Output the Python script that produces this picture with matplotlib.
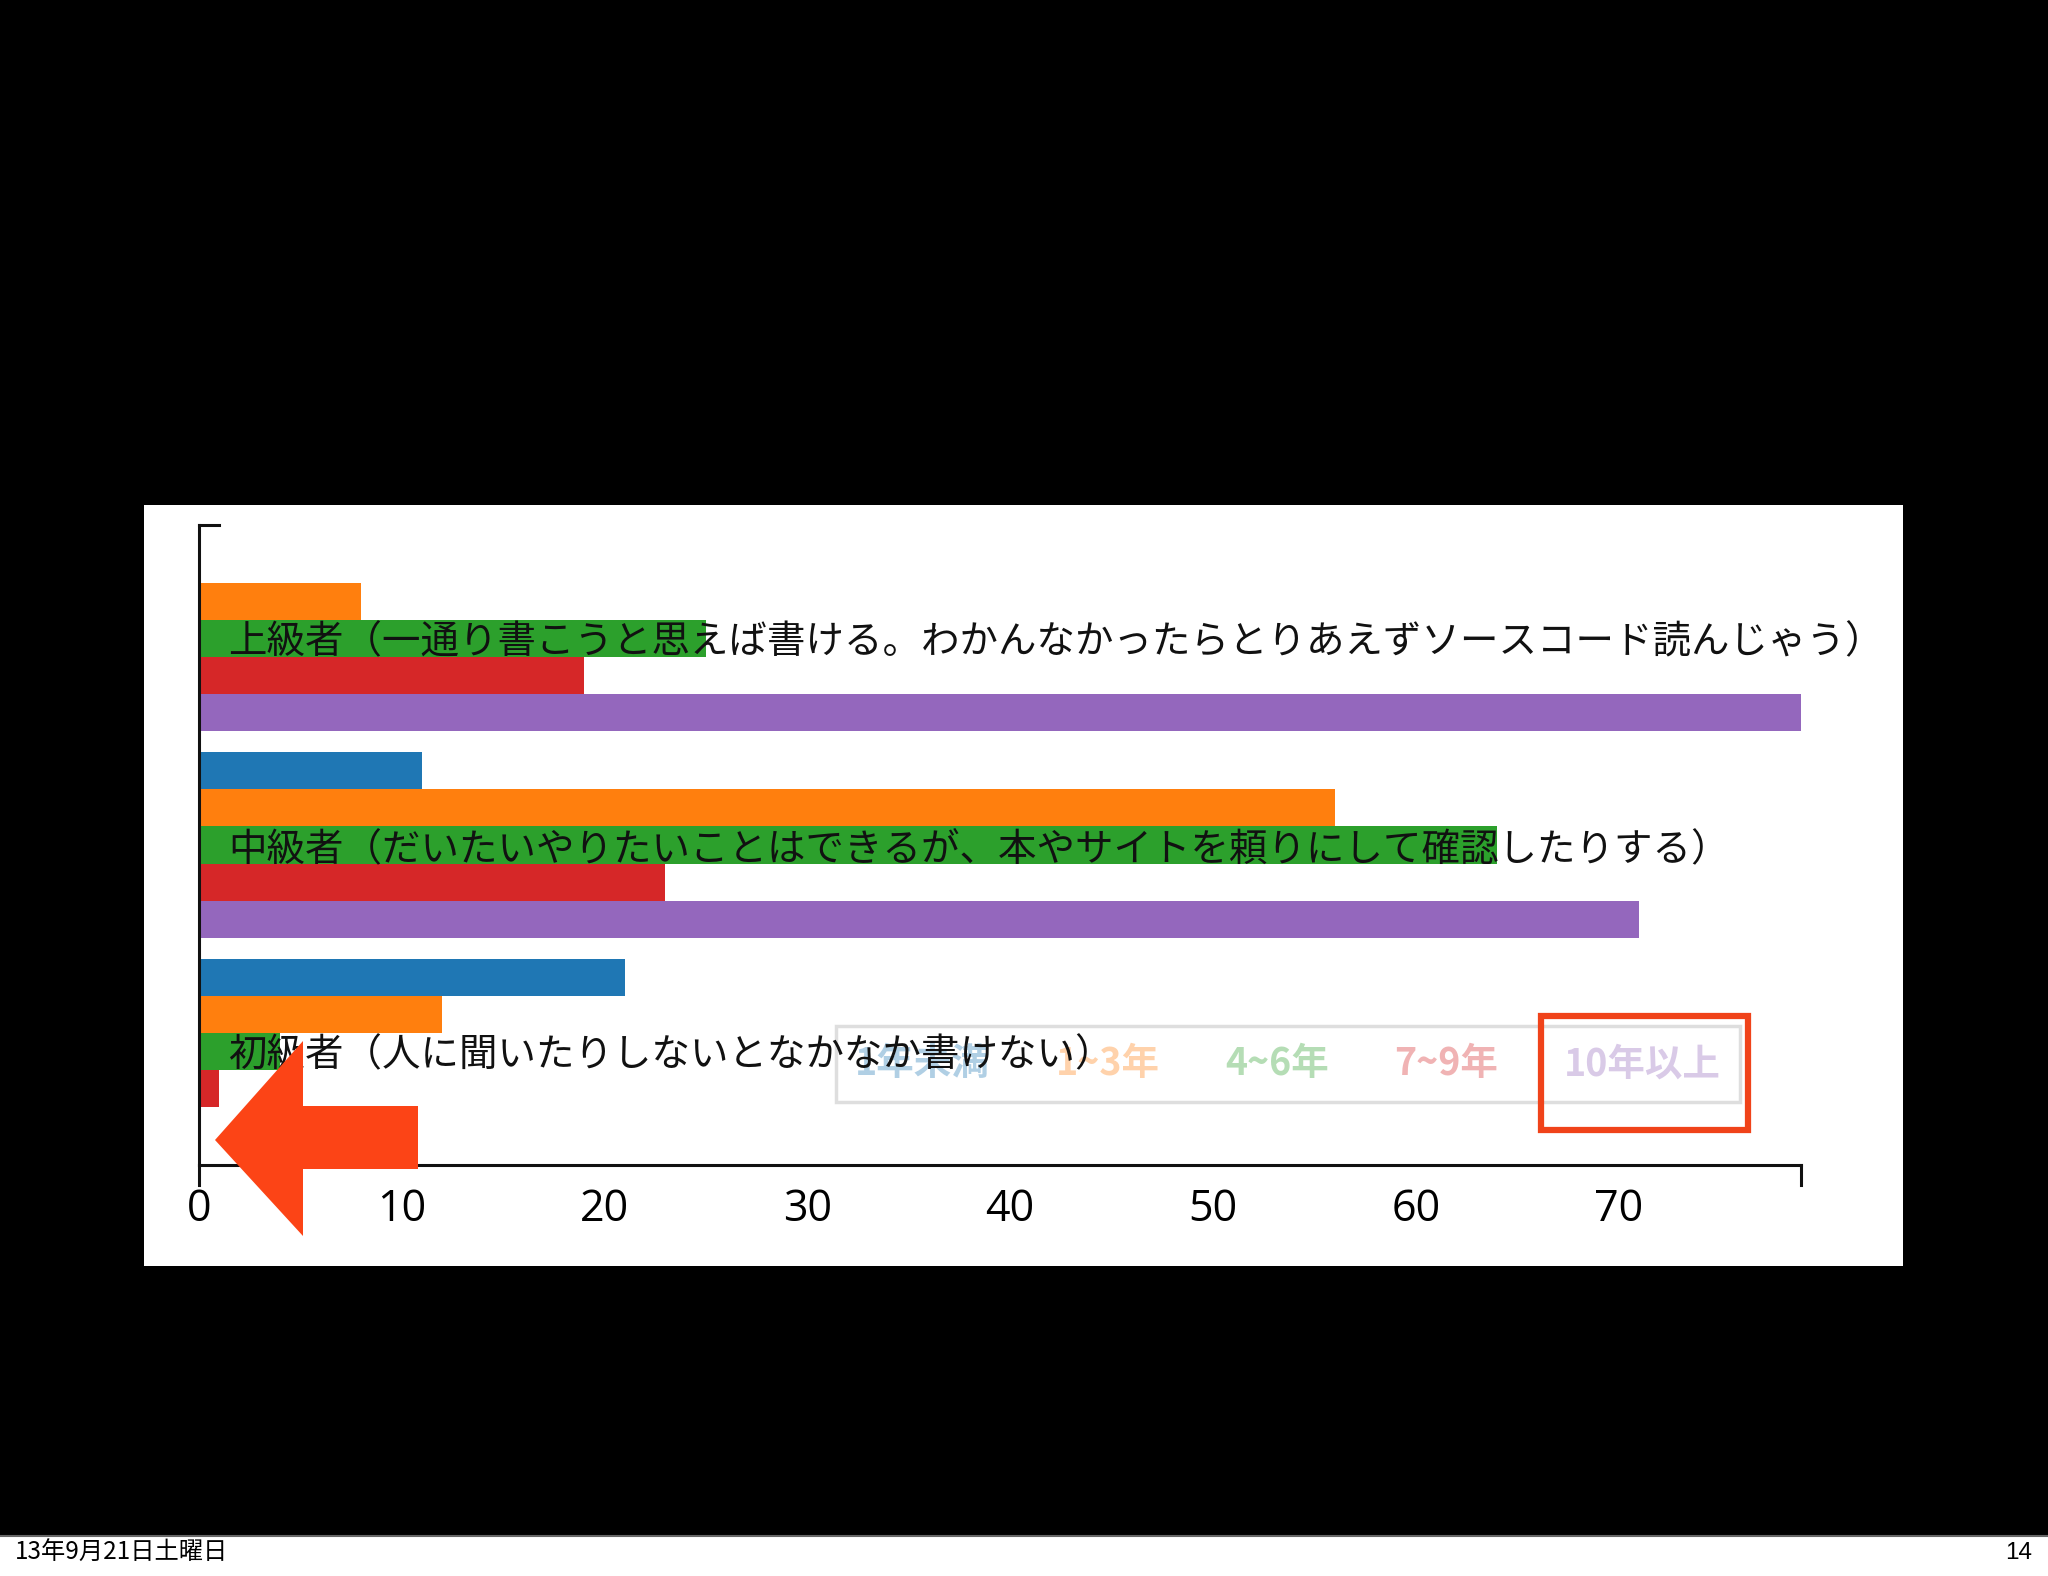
import matplotlib
matplotlib.use("Agg")
import matplotlib.pyplot as plt
from matplotlib.patches import Rectangle, Polygon
from matplotlib.transforms import blended_transform_factory

plt.rcParams['font.family'] = ['Noto Sans CJK JP', 'DejaVu Sans']

# data (groups bottom -> top)
categories = [
    "初級者（人に聞いたりしないとなかなか書けない）",
    "中級者（だいたいやりたいことはできるが、本やサイトを頼りにして確認したりする）",
    "上級者（一通り書こうと思えば書ける。わかんなかったらとりあえずソースコード読んじゃう）",
]
series_names = ["1年未満", "1~3年", "4~6年", "7~9年", "10年以上"]
under_1 = [21, 11, 0]
y1_3 = [12, 56, 8]
y4_6 = [4, 64, 25]
y7_9 = [1, 23, 19]
over_10 = [0, 71, 79]
series_values = [under_1, y1_3, y4_6, y7_9, over_10]
colors = ["#1f77b4", "#ff7f0e", "#2ca02c", "#d62728", "#9467bd"]
xticks = [0, 10, 20, 30, 40, 50, 60, 70]

W, H = 2048, 1576


def fx(x):
    return x / W


def fy(y):
    return 1 - y / H


fig = plt.figure(figsize=(W / 100, H / 100), dpi=100, facecolor="black")

# slide panel + footer
fig.add_artist(Rectangle((fx(144), fy(1266)), fx(1903) - fx(144), fy(505) - fy(1266),
                         transform=fig.transFigure, facecolor="white", edgecolor="none", zorder=-2))
fig.add_artist(Rectangle((0, 0), 1, fy(1536), transform=fig.transFigure,
                         facecolor="white", edgecolor="none", zorder=-2))
fig.add_artist(plt.Line2D([0, 1], [fy(1536), fy(1536)], transform=fig.transFigure,
                          color="#666666", lw=1.5, zorder=-1))
fig.text(fx(15), fy(1553), "13年9月21日土曜日", fontsize=17.5, color="black", va="center", ha="left")
fig.text(fx(2032), fy(1553), "14", fontsize=17.5, color="black", va="center", ha="right",
         family=["Liberation Sans", "DejaVu Sans"])

left, right, top, bottom = 199, 1801, 525, 1165
ax = fig.add_axes([fx(left), fy(bottom), fx(right) - fx(left), fy(top) - fy(bottom)])
ax.set_facecolor("white")

bar_h = 0.18
bars = []
for k, (vals, c) in enumerate(zip(series_values, colors)):
    ys = [i + (2 - k) * bar_h for i in range(len(categories))]
    bars.append(ax.barh(ys, vals, height=bar_h, color=c, edgecolor="none", zorder=2))

ax.set_xlim(0, 79)
ax.set_ylim(-0.55, 2.55)
ax.set_yticks([])
ax.set_xticks(xticks)
ax.set_xticklabels([str(t) for t in xticks], family=["Open Sans", "DejaVu Sans"], fontsize=31)
ax.tick_params(axis="x", length=0, pad=16)

for s in ["top", "right"]:
    ax.spines[s].set_visible(False)
for s in ["left", "bottom"]:
    ax.spines[s].set_linewidth(2.2)
    ax.spines[s].set_color("#111111")

# outer ticks of the axes
tick_w = 20 / (right - left)
tick_h = 20 / (bottom - top)
ax.plot([0, tick_w], [1, 1], transform=ax.transAxes, color="#111111", lw=2.2, clip_on=False)
ax.plot([0, 0], [0, -tick_h], transform=ax.transAxes, color="#111111", lw=2.2, clip_on=False)
ax.plot([1, 1], [0, -tick_h], transform=ax.transAxes, color="#111111", lw=2.2, clip_on=False)

# category labels drawn inside the plot
trans = blended_transform_factory(ax.transAxes, ax.transData)
for i, name in enumerate(categories):
    ax.text(29 / (right - left), i - 0.02, name, transform=trans, fontsize=27.7, color="#111111",
            ha="left", va="center", zorder=7)

leg = ax.legend([b for b in bars], series_names, ncol=5, loc="center",
                bbox_to_anchor=((1288 - left) / (right - left), (bottom - 1064) / (bottom - top)),
                handlelength=0, handletextpad=0, columnspacing=1.75, borderpad=0.5,
                fancybox=False, framealpha=0.7, edgecolor="#d0d0d0",
                prop={"size": 27, "weight": "bold"})
leg.get_frame().set_linewidth(2.5)
leg.set_zorder(5)
for t, c in zip(leg.get_texts(), colors):
    t.set_color(c)
    t.set_alpha(0.35)

# annotation: red box around the last legend item
fig.add_artist(Rectangle((fx(1541), fy(1130)), fx(1748) - fx(1541), fy(1016) - fy(1130),
                         transform=fig.transFigure, facecolor="none", edgecolor="#f0431a",
                         linewidth=4.5, zorder=10))

# annotation: big red arrow pointing at zero
arrow_pts = [(215, 1140), (303, 1041), (303, 1106), (418, 1106),
             (418, 1169), (303, 1169), (303, 1236)]
fig.add_artist(Polygon([(fx(x), fy(y)) for x, y in arrow_pts], closed=True,
                       transform=fig.transFigure, facecolor="#fc4416", edgecolor="none", zorder=10))

fig.savefig("out.png", dpi=100, facecolor="black")
